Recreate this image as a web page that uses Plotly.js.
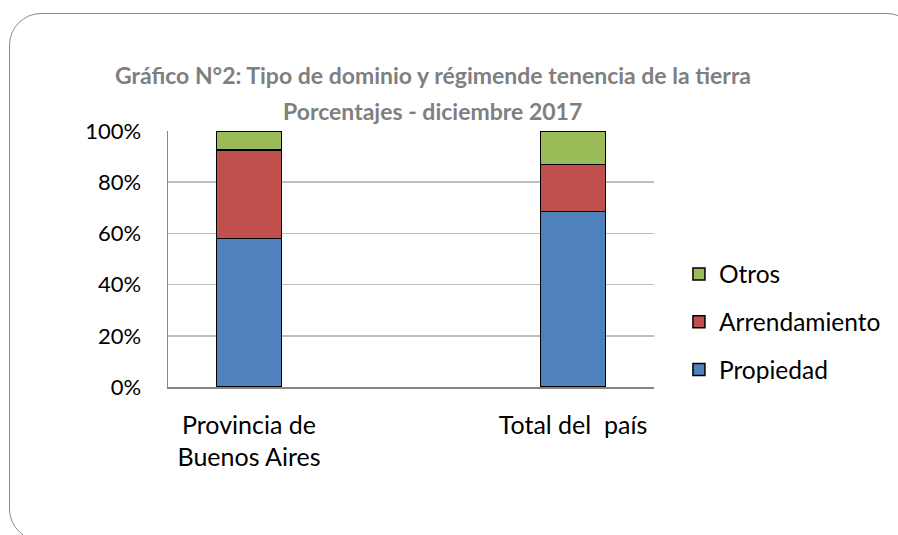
<!DOCTYPE html>
<html>
<head>
<meta charset="utf-8">
<script src="https://cdn.plot.ly/plotly-3.0.1.min.js"></script>
<style>
html,body{margin:0;padding:0;width:898px;height:535px;overflow:hidden;background:#fff;}
#frame{position:absolute;left:9px;top:13px;width:910px;height:528px;border:1.5px solid #8c8c8c;border-radius:32px;box-sizing:border-box;}
#chart{position:absolute;left:0;top:0;width:898px;height:535px;}
</style>
</head>
<body>
<div id="frame"></div>
<div id="chart"></div>
<script>
const categories = ["Provincia de<br>Buenos Aires", "Total del  país"];
const seriesNames = ["Propiedad", "Arrendamiento", "Otros"];
const propiedad = [58.1, 68.5];
const arrendamiento = [34.5, 18.5];
const otros = [7.4, 13.0];
const yTickVals = [0, 20, 40, 60, 80, 100];
const yTickText = ["0%", "20%", "40%", "60%", "80%", "100%"];
const colors = ["#4f81bd", "#c0504d", "#9bbb59"];
const titleText = "Gráfico N°2: Tipo de dominio y régimende tenencia de la tierra";
const subtitleText = "Porcentajes - diciembre 2017";

const values = [propiedad, arrendamiento, otros];
const xIdx = categories.map((c, i) => i);
const traces = values.map((v, k) => ({
  type: "bar",
  name: seriesNames[k],
  x: xIdx,
  y: v,
  width: 0.2,
  legendgroup: "g" + k,
  legendrank: values.length - k,
  marker: {color: colors[k], line: {color: "#000000", width: 1.5}},
  hoverinfo: "skip"
}));

const font = "Lato, 'Open Sans', sans-serif";
const titleFont = {family: font, size: 23, color: "#7f7f7f", weight: "bold"};
const layout = {
  width: 898, height: 535,
  paper_bgcolor: "rgba(0,0,0,0)", plot_bgcolor: "rgba(0,0,0,0)",
  barmode: "stack",
  margin: {l: 168, r: 244, t: 131, b: 148},
  title: {
    text: titleText,
    font: titleFont,
    x: 433 / 898, xanchor: "center", y: 1 - 68 / 535, yanchor: "top"
  },
  annotations: [{
    text: subtitleText, font: titleFont, showarrow: false,
    xref: "paper", yref: "paper",
    x: (433 - 168) / 487, y: 1 + (131 - 111) / 256,
    xanchor: "center", yanchor: "middle"
  }],
  xaxis: {
    range: [-0.25, 1.25],
    tickmode: "array", tickvals: xIdx, ticktext: categories,
    showgrid: false, zeroline: false,
    showline: true, linecolor: "#868686", linewidth: 1.5,
    ticks: "", ticklabelstandoff: 15,
    tickfont: {family: font, size: 25, color: "#000"}
  },
  yaxis: {
    range: [0, 100],
    tickmode: "array", tickvals: yTickVals, ticktext: yTickText,
    showgrid: true, gridcolor: "#bfbfbf", gridwidth: 1.5,
    zeroline: false,
    showline: true, linecolor: "#868686", linewidth: 1.5,
    ticks: "", ticklabelstandoff: 21,
    tickfont: {family: font, size: 22, color: "#000"}
  },
  showlegend: true,
  legend: {
    x: (680 - 168) / 487, y: 0.254, xanchor: "left", yanchor: "middle",
    traceorder: "grouped", tracegroupgap: 13,
    font: {family: font, size: 24.5, color: "#000"},
    bgcolor: "rgba(0,0,0,0)", itemwidth: 30
  }
};

Plotly.newPlot("chart", traces, layout, {displayModeBar: false, staticPlot: true});
</script>
</body>
</html>
